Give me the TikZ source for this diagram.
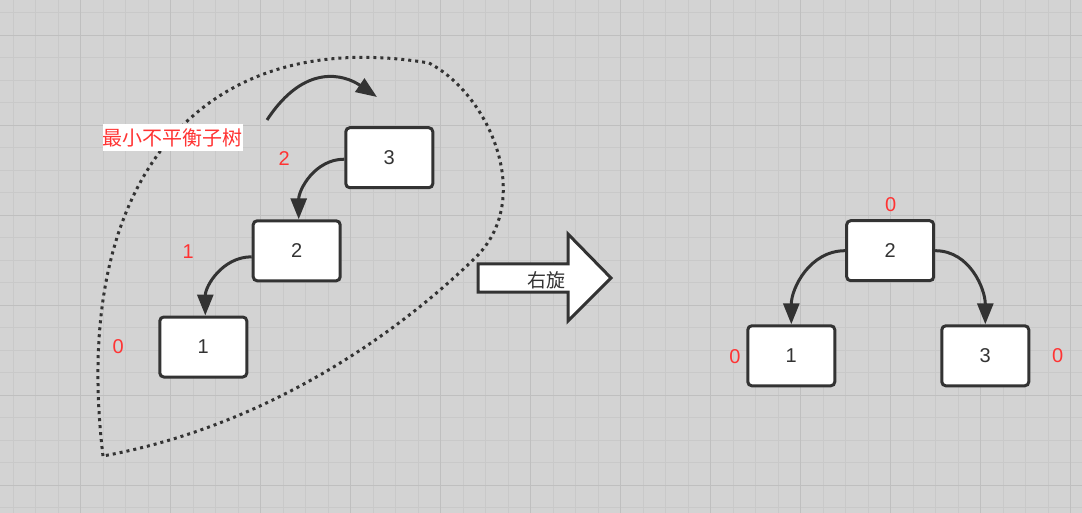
\documentclass[tikz,border=0pt]{standalone}
\usepackage{fontspec}
\setmainfont{Liberation Sans}
\newfontfamily\cjk{Noto Sans CJK SC}
\usetikzlibrary{arrows.meta}
\definecolor{bgc}{RGB}{211,211,211}
\definecolor{minorc}{RGB}{201,201,201}
\definecolor{majorc}{RGB}{191,191,191}
\definecolor{ink}{RGB}{51,51,51}
\definecolor{redc}{RGB}{255,51,51}
\tikzset{
  box/.style={draw=ink, fill=white, line width=3pt, rounded corners=4pt,
    minimum width=87pt, minimum height=60pt, inner sep=0pt,
    font=\fontsize{20}{24}\selectfont, text=ink},
  conn/.style={draw=ink, line width=3pt, -{Triangle[length=21pt,width=16pt]}},
  num/.style={text=redc, font=\fontsize{20}{24}\selectfont, inner sep=0pt},
  hull/.style={draw=ink, line width=3pt, dash pattern=on 3pt off 4pt},
  tag/.style={fill=white, text=redc, font=\cjk\fontsize{20}{24}\selectfont,
    minimum width=140pt, minimum height=27pt, inner sep=0pt},
  bigarrow/.style={draw=ink, fill=white, line width=3pt, line join=miter},
  rotlabel/.style={text=ink, font=\cjk\fontsize{19}{23}\selectfont, inner sep=0pt},
}
\begin{document}
\begin{tikzpicture}[x=1pt,y=1pt]
\fill[bgc] (0,0) rectangle (1082,-513);
\useasboundingbox (0,0) rectangle (1082,-513);
\begin{scope}
\clip (0,0) rectangle (1082,-513);
\foreach \i in {0,...,48} \draw[minorc, line width=1.3pt] ({13.2+22.5*\i},0) -- ++(0,-513);
\foreach \j in {0,...,22} \draw[minorc, line width=1.3pt] (0,{-12.8-22.5*\j}) -- ++(1082,0);
\foreach \i in {1,...,12} \draw[majorc, line width=1.3pt] ({-9.3+90*\i},0) -- ++(0,-513);
\foreach \j in {0,...,5} \draw[majorc, line width=1.3pt] (0,{-35.3-90*\j}) -- ++(1082,0);
\end{scope}

% dotted hull
\draw[hull] (103,-456) .. controls (70,-180) and (200,-25) .. (429,-63)
  .. controls (490,-95) and (535,-200) .. (475,-258)
  .. controls (435,-297) and (300,-420) .. (103,-456) -- cycle;

% left tree
\node[box] (n3L) at (389.3,-157.7) {3};
\node[box] (n2L) at (296.7,-250.8) {2};
\node[box] (n1L) at (203.3,-347) {1};
\draw[conn] ([yshift=-1.5pt]n3L.west) to[out=180,in=90] ([xshift=2pt]n2L.north);
\draw[conn] ([yshift=-6pt]n2L.west) to[out=180,in=90] ([xshift=2pt]n1L.north);

\node[num] (b3) at (284.3,-158.3) {2};
\node[num] (b2) at (188.3,-251.7) {1};
\node[num] (b1) at (118.3,-346.7) {0};

\node[tag] (lbl) at (172.5,-137.5) {最小不平衡子树};

% rotation hint arrow
\coordinate (ts) at (267,-120);
\coordinate (te) at (377,-97);
\draw[conn] (ts) .. controls (305,-62) and (345,-75) .. (te);

% big arrow
\draw[bigarrow] (478,-264) -- (568,-264) -- (568,-234) -- (611,-278) -- (568,-321) -- (568,-292) -- (478,-292) -- cycle;
\node[rotlabel] (rot) at (546,-280) {右旋};

% right tree
\node[box] (n2R) at (890.2,-250.7) {2};
\node[box] (n1R) at (791.3,-355.8) {1};
\node[box] (n3R) at (985.3,-355.8) {3};
\draw[conn] (n2R.west) to[out=180,in=90] (n1R.north);
\draw[conn] (n2R.east) to[out=0,in=90] (n3R.north);

\node[num] (c2) at (890.7,-205) {0};
\node[num] (c1) at (735,-356.7) {0};
\node[num] (c3) at (1057.7,-355.7) {0};
\end{tikzpicture}
\end{document}
